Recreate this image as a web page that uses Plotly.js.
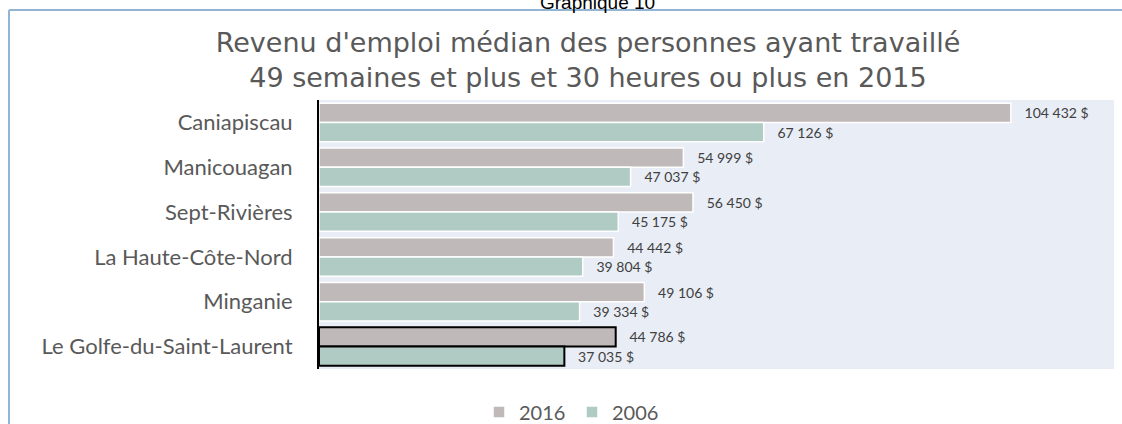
<!DOCTYPE html>
<html>
<head>
<meta charset="utf-8">
<script src="https://cdn.plot.ly/plotly-3.0.1.min.js"></script>
<style>
  html, body { margin: 0; padding: 0; background: #ffffff; }
  #chart { width: 1122px; height: 424px; }
</style>
</head>
<body>
<div id="chart"></div>
<script>
// ---- Data ----
const categories = [
  "Caniapiscau",
  "Manicouagan",
  "Sept-Rivières",
  "La Haute-Côte-Nord",
  "Minganie",
  "Le Golfe-du-Saint-Laurent"
];
const values2016 = [104432, 54999, 56450, 44442, 49106, 44786];
const values2006 = [67126, 47037, 45175, 39804, 39334, 37035];
const seriesNames = ["2016", "2006"];
const highlighted = "Le Golfe-du-Saint-Laurent";
const chartTitle = "Revenu d'emploi médian des personnes ayant travaillé<br>49 semaines et plus et 30 heures ou plus en 2015";
const figureLabel = "Graphique 10";

// ---- Styling ----
const W = 1122, H = 424;
const M = { l: 319, r: 8, t: 100, b: 55 };
const plotW = W - M.l - M.r, plotH = H - M.t - M.b;
const px2x = p => (p - M.l) / plotW;
const px2y = p => (H - M.b - p) / plotH;

const frameColor = "#93b4d3";
const labelFont = { family: "Lato, 'Open Sans', sans-serif", size: 14, color: "#404040" };

function fmt(v) {
  return String(v).replace(/\B(?=(\d{3})+(?!\d))/g, " ") + " $";
}
const pad = "\u00a0\u00a0\u00a0";

function lineColors() {
  return categories.map(c => c === highlighted ? "#000000" : "#ffffff");
}
function lineWidths() {
  return categories.map(c => c === highlighted ? 2 : 1.5);
}

const traces = [
  {
    type: "bar", orientation: "h", name: seriesNames[0],
    y: categories, x: values2016,
    marker: { color: "#c0b9b9", line: { color: lineColors(), width: lineWidths() } },
    text: values2016.map(v => pad + fmt(v)),
    textposition: "outside", textfont: labelFont,
    constraintext: "none", cliponaxis: false,
    hoverinfo: "x+y"
  },
  {
    type: "bar", orientation: "h", name: seriesNames[1],
    y: categories, x: values2006,
    marker: { color: "#b0cbc3", line: { color: lineColors(), width: lineWidths() } },
    text: values2006.map(v => pad + fmt(v)),
    textposition: "outside", textfont: labelFont,
    constraintext: "none", cliponaxis: false,
    hoverinfo: "x+y"
  }
];

const layout = {
  width: W, height: H,
  margin: M,
  paper_bgcolor: "#ffffff",
  plot_bgcolor: "#e9edf5",
  barmode: "group",
  bargap: 0.14,
  bargroupgap: 0,
  showlegend: true,
  title: {
    text: chartTitle,
    font: { family: "'DejaVu Sans', 'Liberation Sans', sans-serif", size: 27, color: "#595959" },
    x: 588 / W, xanchor: "center",
    y: 1 - 52 / H, yanchor: "top",
    automargin: false
  },
  xaxis: {
    range: [0, 120000],
    showgrid: false, zeroline: false, showticklabels: false,
    ticks: "", showline: false, fixedrange: true
  },
  yaxis: {
    type: "category",
    autorange: "reversed",
    showgrid: false, zeroline: false,
    showline: true, linecolor: "#000000", linewidth: 2,
    ticks: "", ticklabelstandoff: 20,
    tickfont: { family: "Lato, 'Open Sans', sans-serif", size: 22, color: "#595959" },
    fixedrange: true
  },
  legend: {
    orientation: "h",
    xref: "container", yref: "container",
    x: 572 / W, xanchor: "center",
    y: 1 - 412 / H, yanchor: "middle",
    font: { family: "Lato, 'Open Sans', sans-serif", size: 20, color: "#595959" },
    bgcolor: "rgba(0,0,0,0)",
    traceorder: "normal",
    itemwidth: 30,
    entrywidth: 48, entrywidthmode: "pixels"
  },
  shapes: [
    { type: "line", xref: "paper", yref: "paper",
      x0: px2x(9), x1: px2x(W + 5), y0: px2y(10), y1: px2y(10),
      line: { color: frameColor, width: 2 } },
    { type: "line", xref: "paper", yref: "paper",
      x0: px2x(9), x1: px2x(9), y0: px2y(10), y1: px2y(H + 5),
      line: { color: frameColor, width: 2 } }
  ],
  annotations: [
    { text: figureLabel, xref: "paper", yref: "paper",
      x: px2x(597), y: px2y(15), xanchor: "center", yanchor: "bottom",
      showarrow: false,
      font: { family: "'Liberation Sans', Arial, sans-serif", size: 19, color: "#000000" } }
  ]
};

Plotly.newPlot("chart", traces, layout, { displayModeBar: false, staticPlot: true });
</script>
</body>
</html>
